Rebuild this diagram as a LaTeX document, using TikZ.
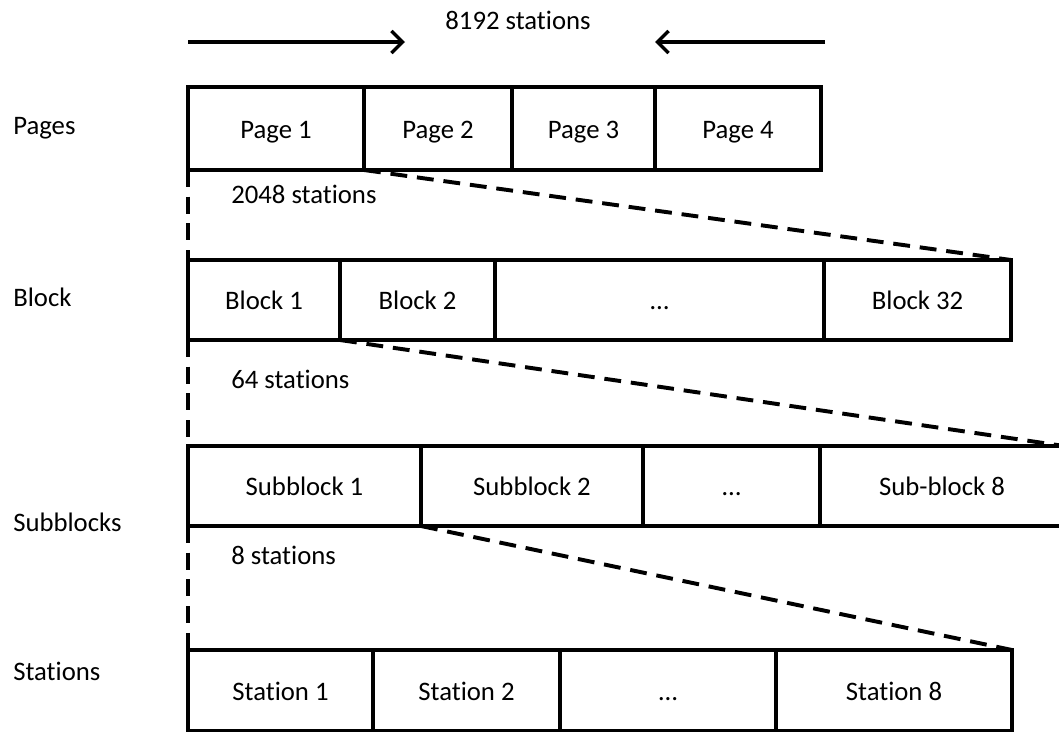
\documentclass[tikz,border=0pt]{standalone}
\usepackage{fontspec}
\setmainfont{Carlito}[Ligatures={NoCommon}]
\usetikzlibrary{arrows.meta}

\begin{document}
\begin{tikzpicture}[x=0.025cm,y=-0.025cm,
    every node/.style={font=\fontsize{19}{23}\selectfont},
    zelle/.style={draw,line width=2.8pt,inner sep=0pt,outer sep=0pt,text height=17pt,text depth=3pt},
    beschriftung/.style={anchor=west,inner sep=0pt},
    gestrichelt/.style={line width=2.8pt,dash pattern={on 12pt off 7pt}},
    pfeil/.style={line width=2.4pt,-{Straight Barb[length=2.8mm,width=5.5mm,line width=2.4pt]}}]
    \useasboundingbox (0,0) rectangle (1059,731);

    % Pfeile oben mit Gesamtzahl
    \coordinate (pfeilA) at (188,42);
    \coordinate (pfeilB) at (405,42);
    \coordinate (pfeilC) at (825,42);
    \coordinate (pfeilD) at (655,42);
    \draw[pfeil] (pfeilA) -- (pfeilB);
    \draw[pfeil] (pfeilC) -- (pfeilD);
    \node (gesamt) at (518,20) {8192 stations};

    % Zeile Pages
    \foreach \a/\b/\t/\n in {188/364/Page 1/p1,364/512/Page 2/p2,512/655/Page 3/p3,655/821/Page 4/p4} {
        \node[zelle,minimum width={(\b-\a)*0.025cm},minimum height={83*0.025cm}] (\n) at ({(\a+\b)/2},128.5) {\t};
    }

    % Zeile Block
    \foreach \a/\b/\t/\n in {188/340/Block 1/b1,340/495/Block 2/b2,495/824/…/b3,824/1011/Block 32/b4} {
        \node[zelle,minimum width={(\b-\a)*0.025cm},minimum height={80*0.025cm}] (\n) at ({(\a+\b)/2},300) {\t};
    }

    % Zeile Subblocks
    \foreach \a/\b/\t/\n in {188/421/Subblock 1/sb1,421/643/Subblock 2/sb2,643/820/…/sb3,820/1064/Sub-block 8/sb4} {
        \node[zelle,minimum width={(\b-\a)*0.025cm},minimum height={80*0.025cm}] (\n) at ({(\a+\b)/2},486) {\t};
    }

    % Zeile Stations
    \foreach \a/\b/\t/\n in {188/373/Station 1/st1,373/560/Station 2/st2,560/776/…/st3,776/1012/Station 8/st4} {
        \node[zelle,minimum width={(\b-\a)*0.025cm},minimum height={81*0.025cm}] (\n) at ({(\a+\b)/2},690.5) {\t};
    }

    % Beschriftung links
    \node[beschriftung] (lpages) at (13,128) {Pages};
    \node[beschriftung] (lblock) at (13,297) {Block};
    \node[beschriftung] (lsub) at (13,522) {Subblocks};
    \node[beschriftung] (lstat) at (13,671) {Stations};

    % Anzahl Stationen je Teil
    \node[beschriftung] (n2048) at (231,194) {2048 stations};
    \node[beschriftung] (n64) at (231,379) {64 stations};
    \node[beschriftung] (n8) at (231,555) {8 stations};

    % Gestrichelte Linien
    \draw[gestrichelt] (p1.south west) -- (b1.north west);
    \draw[gestrichelt] (p1.south east) -- (b4.north east);
    \draw[gestrichelt] (b1.south west) -- (sb1.north west);
    \draw[gestrichelt] (b1.south east) -- (sb4.north east);
    \draw[gestrichelt] (sb1.south west) -- (st1.north west);
    \draw[gestrichelt] (sb1.south east) -- (st4.north east);
\end{tikzpicture}
\end{document}
